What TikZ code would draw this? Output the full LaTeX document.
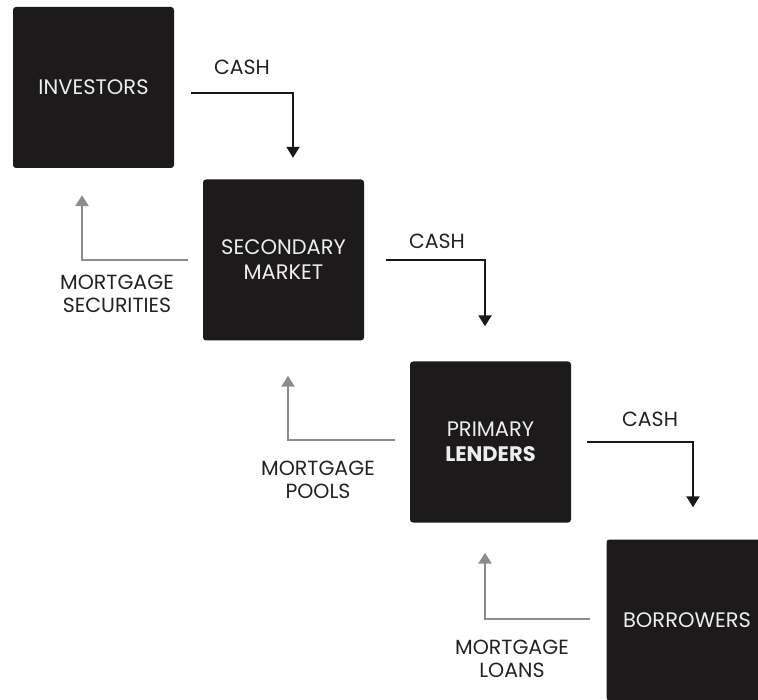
\documentclass[tikz,border=0pt]{standalone}
\usepackage{fontspec}
\setmainfont{Poppins}
\usetikzlibrary{arrows.meta}
\definecolor{negrocaja}{HTML}{1D1A1B}
\definecolor{grisflecha}{HTML}{8C8C8C}
\definecolor{textorotulo}{HTML}{222222}

\begin{document}
\begin{tikzpicture}[x=1pt,y=-1pt,
  caja/.style={fill=negrocaja,rounded corners=3pt,minimum width=161pt,minimum height=161pt,
    inner sep=0pt,text=white!93!black,align=center,font=\fontsize{21}{25}\selectfont},
  rotulo/.style={text=textorotulo,align=center,font=\fontsize{20.5}{23}\selectfont},
  efectivo/.style={line width=2.2pt,draw=black!90,-{Triangle[width=13pt,length=11pt]}},
  hipoteca/.style={line width=2.6pt,draw=grisflecha,-{Triangle[width=13pt,length=11pt]}}]
\useasboundingbox (0,0) rectangle (758,700);
\clip (0,0) rectangle (758,700);
%
% cajas
\node[caja] (inversores) at (93.5,87.5) {INVESTORS};
\node[caja] (secundario) at (283.5,260) {SECONDARY\\MARKET};
\node[caja] (primario) at (490.5,442) {PRIMARY\\\bfseries LENDERS};
\node[caja] (prestatarios) at (687,620) {BORROWERS};
%
% flujo de dinero
\draw[efectivo] ([xshift=17pt,yshift=-5.5pt]inversores.east) -| ([xshift=9.5pt,yshift=21.5pt]secundario.north);
\draw[efectivo] ([xshift=22pt]secundario.east) -| ([xshift=-5.5pt,yshift=35pt]primario.north);
\draw[efectivo] ([xshift=16pt]primario.east) -| ([xshift=6pt,yshift=32pt]prestatarios.north);
%
% flujo de hipotecas
\draw[hipoteca] ([xshift=-15pt]secundario.west) -| ([xshift=-11.5pt,yshift=-27pt]inversores.south);
\draw[hipoteca] ([xshift=-15pt,yshift=2pt]primario.west) -| ([xshift=4.5pt,yshift=-35pt]secundario.south);
\draw[hipoteca] ([xshift=-16pt,yshift=1pt]prestatarios.west) -| ([xshift=-5.5pt,yshift=-30pt]primario.south);
%
% rotulos
\node[rotulo] (cash1) at (242,67) {CASH};
\node[rotulo] (cash2) at (437,241) {CASH};
\node[rotulo] (cash3) at (650,419) {CASH};
\node[rotulo] (titulos) at (117,293.5) {MORTGAGE\\SECURITIES};
\node[rotulo] (fondos) at (318,480) {MORTGAGE\\POOLS};
\node[rotulo] (prestamos) at (512,659) {MORTGAGE\\LOANS};
\end{tikzpicture}
\end{document}
